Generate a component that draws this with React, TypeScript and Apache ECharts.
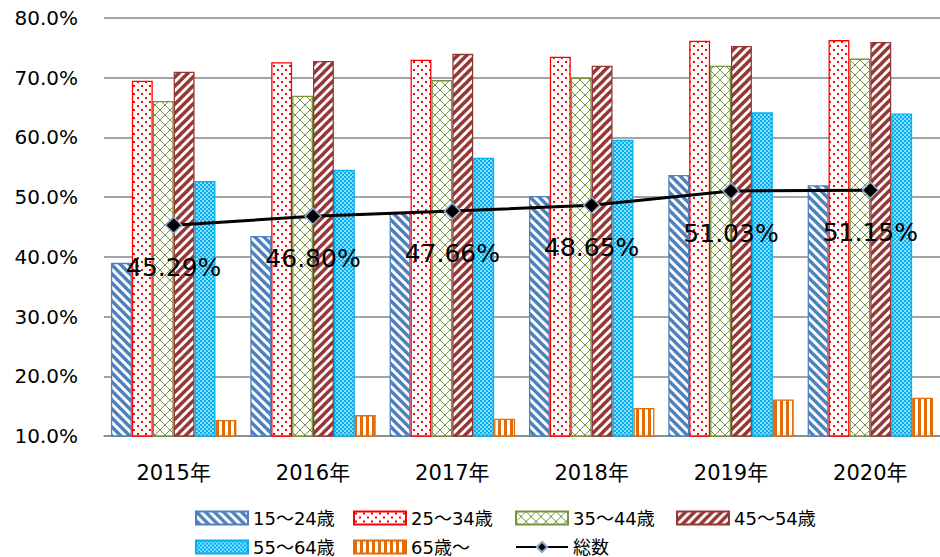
import React, { useEffect, useRef } from 'react';
import * as echarts from 'echarts';

const categories = ['2015年', '2016年', '2017年', '2018年', '2019年', '2020年'];
const seriesNames = ['15～24歳', '25～34歳', '35～44歳', '45～54歳', '55～64歳', '65歳～'];
const s15_24 = [39.0, 43.5, 47.4, 50.2, 53.7, 52.0];
const s25_34 = [69.5, 72.6, 73.0, 73.5, 76.2, 76.3];
const s35_44 = [66.1, 67.0, 69.6, 70.0, 72.0, 73.2];
const s45_54 = [71.0, 72.8, 74.0, 72.0, 75.3, 76.0];
const s55_64 = [52.7, 54.6, 56.6, 59.6, 64.2, 64.0];
const s65 = [12.7, 13.5, 12.9, 14.7, 16.1, 16.4];
const totalName = '総数';
const total = [45.29, 46.8, 47.66, 48.65, 51.03, 51.15];

const FONT = '"DejaVu Sans", "Noto Sans CJK JP", sans-serif';

function tile(w: number, h: number, draw: (ctx: CanvasRenderingContext2D) => void) {
  const c = document.createElement('canvas');
  c.width = w;
  c.height = h;
  const ctx = c.getContext('2d') as CanvasRenderingContext2D;
  ctx.fillStyle = '#ffffff';
  ctx.fillRect(0, 0, w, h);
  draw(ctx);
  return { image: c.toDataURL(), repeat: 'repeat', imageWidth: w, imageHeight: h } as any;
}

function makePatterns() {
  const blue = '#4F81BD';
  const red = '#FF0000';
  const green = '#77933C';
  const brown = '#953735';
  const cyan = '#00B0F0';
  const orange = '#E36C09';
  const backslash = tile(9, 9, (ctx) => {
    ctx.strokeStyle = blue;
    ctx.lineWidth = 3.4;
    for (const o of [-9, 0, 9]) {
      ctx.beginPath();
      ctx.moveTo(o - 2, -2);
      ctx.lineTo(o + 11, 11);
      ctx.stroke();
    }
  });
  const dots = tile(8, 8, (ctx) => {
    ctx.fillStyle = red;
    ctx.fillRect(1, 1, 2, 2);
    ctx.fillRect(5, 5, 2, 2);
  });
  const lattice = tile(10, 10, (ctx) => {
    ctx.strokeStyle = green;
    ctx.lineWidth = 1;
    ctx.beginPath();
    ctx.moveTo(0, 0);
    ctx.lineTo(10, 10);
    ctx.moveTo(10, 0);
    ctx.lineTo(0, 10);
    ctx.stroke();
  });
  const slash = tile(9, 9, (ctx) => {
    ctx.strokeStyle = brown;
    ctx.lineWidth = 3.4;
    for (const o of [-9, 0, 9]) {
      ctx.beginPath();
      ctx.moveTo(o - 2, 11);
      ctx.lineTo(o + 11, -2);
      ctx.stroke();
    }
  });
  const checker = tile(4, 4, (ctx) => {
    ctx.fillStyle = cyan;
    ctx.fillRect(0, 0, 2, 2);
    ctx.fillRect(2, 2, 2, 2);
    ctx.globalAlpha = 0.45;
    ctx.fillRect(2, 0, 2, 2);
    ctx.fillRect(0, 2, 2, 2);
  });
  const vstripes = tile(6, 4, (ctx) => {
    ctx.fillStyle = orange;
    ctx.fillRect(0, 0, 3, 4);
  });
  return [
    { fill: backslash, border: blue },
    { fill: dots, border: red },
    { fill: lattice, border: green },
    { fill: slash, border: brown },
    { fill: checker, border: cyan },
    { fill: vstripes, border: orange },
  ];
}

const legendCols = [195, 353, 515, 676];

export default function App() {
  const ref = useRef<HTMLDivElement>(null);
  useEffect(() => {
    if (!ref.current) return;
    const chart = echarts.init(ref.current, undefined, { renderer: 'svg' });
    const pats = makePatterns();
    const barData = [s15_24, s25_34, s35_44, s45_54, s55_64, s65];
    const barSeries = seriesNames.map((name, i) => ({
      name,
      type: 'bar',
      data: barData[i],
      barGap: '0%',
      barCategoryGap: '10%',
      itemStyle: {
        color: pats[i].fill,
        borderColor: pats[i].border,
        borderWidth: 1.3,
      },
    }));
    const legendItems = [...seriesNames, totalName];
    const legends = legendItems.map((name, i) => ({
      data: [name === totalName ? { name } : { name, icon: 'rect' }],
      left: legendCols[i % 4],
      top: i < 4 ? 509 : 538,
      itemWidth: 52,
      itemHeight: 13,
      padding: 0,
      textStyle: { fontSize: 18, lineHeight: 18, color: '#000', fontFamily: FONT },
    }));
    const option: any = {
      animation: false,
      textStyle: { fontFamily: FONT },
      grid: { left: 104, right: -5, top: 18, bottom: 121 },
      xAxis: {
        type: 'category',
        data: categories,
        axisTick: { show: false },
        axisLine: { lineStyle: { color: '#868686', width: 1.5 } },
        axisLabel: { color: '#000', fontSize: 21, margin: 26, fontFamily: FONT },
      },
      yAxis: {
        type: 'value',
        min: 10,
        max: 80,
        interval: 10,
        axisLine: { show: false },
        axisTick: { show: false },
        splitLine: { lineStyle: { color: '#868686', width: 1.5 } },
        axisLabel: {
          color: '#000',
          fontSize: 20,
          margin: 26,
          fontFamily: FONT,
          formatter: (v: number) => v.toFixed(1) + '%',
        },
      },
      legend: legends,
      series: [
        ...barSeries,
        {
          name: totalName,
          type: 'line',
          data: total,
          z: 10,
          symbol: 'diamond',
          symbolSize: 16,
          lineStyle: { color: '#000', width: 3 },
          itemStyle: { color: '#000', borderColor: '#8EA9C8', borderWidth: 1.5 },
          label: {
            show: true,
            position: 'bottom',
            distance: 21,
            fontSize: 25,
            color: '#000',
            fontFamily: FONT,
            formatter: (p: any) => Number(p.value).toFixed(2) + '%',
          },
        },
      ],
    };
    chart.setOption(option);
    return () => chart.dispose();
  }, []);
  return (
    <div
      ref={ref}
      style={{ position: 'fixed', left: 0, top: 0, width: 940, height: 557, background: '#fff' }}
    />
  );
}
